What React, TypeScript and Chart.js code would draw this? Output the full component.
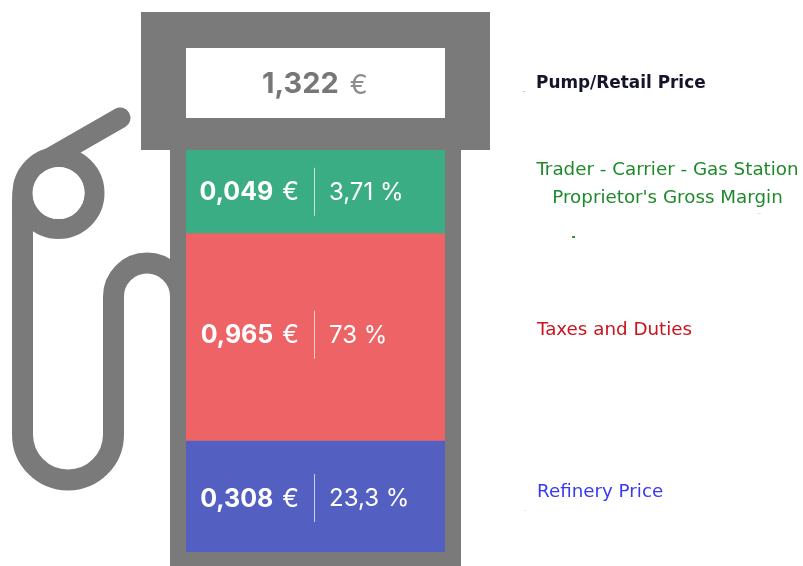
import React, { useEffect, useRef } from "react";
import { Chart, registerables } from "chart.js";

Chart.register(...registerables);

// Bottom-to-top order, as stacked in the pump
const categories = ["Price"];
const components = ["Refinery Price", "Taxes and Duties", "Trader - Carrier - Gas Station Proprietor's Gross Margin"];
const priceLabels = ["0,308", "0,965", "0,049"];
const shareLabels = ["23,3 %", "73 %", "3,71 %"];
// The infographic's bands are not to scale: these are the band sizes.
const bandSizes = [111, 207.5, 83.5];
const bandColors = ["#545fc2", "#ee6466", "#3bad85"];
const totalLabel = "1,322";
const euro = "€";
const retailLabel = "Pump/Retail Price";
const sideLines = [["Refinery Price"], ["Taxes and Duties"], ["Trader - Carrier - Gas Station", "Proprietor's Gross Margin"]];
const sideColors = ["#3a3af0", "#c8141e", "#1f8a2a"];

const GRAY = "#7a7a7a";
const NUM_FONT = "Inter";
const SIDE_FONT = "'DejaVu Sans'";

const pumpPlugin = {
  id: "pump",
  beforeDatasetsDraw(chart: any) {
    const ctx = chart.ctx;
    ctx.save();
    ctx.fillStyle = GRAY;
    ctx.fillRect(141, 12, 349, 138);
    ctx.fillRect(170, 150, 291, 416);
    ctx.fillStyle = "#ffffff";
    ctx.fillRect(186, 48, 259, 70);

    ctx.strokeStyle = GRAY;
    ctx.lineWidth = 21;
    ctx.lineCap = "round";
    ctx.lineJoin = "round";
    ctx.beginPath();
    ctx.moveTo(120, 118);
    ctx.lineTo(52, 157);
    ctx.quadraticCurveTo(22.5, 172, 22.5, 200);
    ctx.lineTo(22.5, 434.5);
    ctx.arc(68, 434.5, 45.5, Math.PI, 0, true);
    ctx.lineTo(113.5, 296.5);
    ctx.arc(147, 296.5, 33.5, Math.PI, 0, false);
    ctx.stroke();

    ctx.lineWidth = 20;
    ctx.beginPath();
    ctx.arc(58.5, 193, 36, 0, Math.PI * 2);
    ctx.stroke();
    ctx.fillStyle = "#ffffff";
    ctx.beginPath();
    ctx.arc(58.5, 193, 26, 0, Math.PI * 2);
    ctx.fill();

    // Faint specks present in the source image
    ctx.fillStyle = "#c4c4c4";
    ctx.fillRect(523, 91, 2, 1);
    ctx.fillStyle = "#dfe6ef";
    ctx.fillRect(524, 510, 2, 1);
    ctx.fillRect(757, 213, 4, 1);
    ctx.fillStyle = "#2a9a3a";
    ctx.fillRect(572, 236, 3, 2);
    ctx.restore();
  },
  afterDatasetsDraw(chart: any) {
    const ctx = chart.ctx;
    const nudges = [1.5, -2.5, 0];
    ctx.save();
    ctx.textBaseline = "middle";

    // total in the display window
    const totalFont = `700 29px ${NUM_FONT}`;
    const euroTopFont = `400 27px ${NUM_FONT}`;
    ctx.font = totalFont;
    const tw = ctx.measureText(totalLabel).width;
    const totalX = 262;
    ctx.textAlign = "left";
    ctx.fillStyle = "#77777a";
    ctx.fillText(totalLabel, totalX, 84.5);
    ctx.font = euroTopFont;
    ctx.fillStyle = "#8e8e90";
    ctx.fillText(euro, totalX + tw + 11, 85.5);

    priceLabels.forEach((price, i) => {
      const bar = chart.getDatasetMeta(i).data[0];
      const y = (bar.y + bar.base) / 2 + nudges[i];
      const ty = y + 1;
      ctx.fillStyle = "#ffffff";
      ctx.textAlign = "right";
      ctx.font = `400 25px ${NUM_FONT}`;
      ctx.fillText(euro, 299, ty);
      const ew = ctx.measureText(euro).width;
      ctx.font = `700 25px ${NUM_FONT}`;
      ctx.fillText(price, 299 - ew - 9, ty);
      ctx.textAlign = "left";
      ctx.font = `400 24px ${NUM_FONT}`;
      ctx.fillText(shareLabels[i], 329, ty);
      ctx.fillStyle = "rgba(255,255,255,0.7)";
      ctx.fillRect(314, y - 24, 1, 48);
    });

    // side captions
    ctx.font = `700 16.9px ${SIDE_FONT}`;
    ctx.fillStyle = "#15152a";
    ctx.textAlign = "left";
    ctx.fillText(retailLabel, 536, 84);

    ctx.font = `400 18.3px ${SIDE_FONT}`;
    const sideY = [[492], [330], [170, 198]];
    sideLines.forEach((lines, i) => {
      ctx.fillStyle = sideColors[i];
      ctx.textAlign = lines.length > 1 ? "center" : "left";
      lines.forEach((line, j) => {
        ctx.fillText(line, lines.length > 1 ? 667.5 : 537, sideY[i][j]);
      });
    });
    ctx.restore();
  },
};

export default function App() {
  const ref = useRef<HTMLCanvasElement>(null);
  useEffect(() => {
    const chart = new Chart(ref.current as HTMLCanvasElement, {
      type: "bar",
      data: {
        labels: categories,
        datasets: components.map((name, i) => ({
          label: name,
          data: [bandSizes[i]],
          backgroundColor: bandColors[i],
          borderWidth: 0,
          barPercentage: 1,
          categoryPercentage: 1,
        })),
      },
      options: {
        responsive: false,
        animation: false,
        layout: { padding: { left: 186, right: 358, top: 150, bottom: 14 } },
        plugins: { legend: { display: false }, tooltip: { enabled: false } },
        scales: {
          x: { stacked: true, display: false },
          y: { stacked: true, display: false, min: 0, max: 402 },
        },
      },
      plugins: [pumpPlugin],
    });
    return () => chart.destroy();
  }, []);
  return (
    <canvas
      ref={ref}
      width={803}
      height={566}
      style={{ position: "absolute", left: 0, top: 0, display: "block", background: "#ffffff" }}
    />
  );
}
